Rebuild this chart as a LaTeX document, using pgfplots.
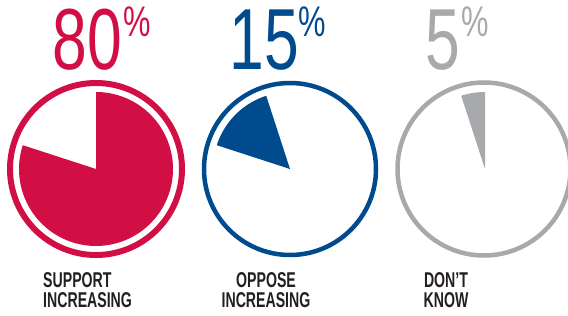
\documentclass[border=0pt]{standalone}
\usepackage{pgfplots}
\pgfplotsset{compat=1.18}
\usepackage{fontspec}
\setmainfont{Liberation Sans}
\usepackage{graphicx}
\definecolor{cred}{HTML}{D20F45}
\definecolor{cblue}{HTML}{004B8D}
\definecolor{cgray}{HTML}{A7A9AC}
\definecolor{ctext}{HTML}{231F20}
% value of each share, and the share drawn before it (cumulative)
\newcommand\pie[4]{% center x, cumulative before, value, colour
  \addplot[fill=#4, draw=none, domain={90-3.6*(#2+#3)}:{90-3.6*#2}, samples=120]
    ({#1+77*cos(x)},{147+77*sin(x)}) -- (axis cs:#1,147) -- cycle;
}
\newcommand\bignum[1]{\scalebox{0.72}[1]{\fontsize{87}{87}\selectfont #1}}
\newcommand\pct{\scalebox{0.72}[1]{\fontsize{43}{43}\selectfont\%}}
\newcommand\lab[3]{\scalebox{0.66}[1]{\fontsize{21.5}{19}\selectfont\bfseries
  \begin{tabular}{@{}#1@{}}#2\\#3\end{tabular}}}
\begin{document}
\begin{tikzpicture}
\useasboundingbox (0,0) rectangle (568bp,316bp);
\begin{axis}[at={(0,0)}, anchor=south west, scale only axis,
  width=568bp, height=316bp, xmin=0, xmax=568, ymin=0, ymax=316,
  hide axis, clip=false]
% rings
\draw[cred, line width=6bp] (axis cs:96,147) circle [radius=86];
\draw[cblue, line width=4.5bp] (axis cs:290,147) circle [radius=86];
\draw[cgray, line width=4.5bp] (axis cs:484,147) circle [radius=86.5];
% wedges: Support 80, Oppose 15, Don't know 5
\pie{96}{0}{80}{cred}
\pie{290}{80}{15}{cblue}
\pie{485}{95}{5}{cgray}
% numbers
\node[anchor=base east, inner sep=0, text=cred] at (axis cs:122,246.5) {\bignum{80}};
\node[anchor=north west, inner sep=0, text=cred] at (axis cs:123,309) {\pct};
\node[anchor=base east, inner sep=0, text=cblue] at (axis cs:299,246.5) {\bignum{15}};
\node[anchor=north west, inner sep=0, text=cblue] at (axis cs:298,309) {\pct};
\node[anchor=base east, inner sep=0, text=cgray] at (axis cs:460,246.5) {\bignum{5}};
\node[anchor=north west, inner sep=0, text=cgray] at (axis cs:461,309) {\pct};
% labels
\node[anchor=south west, inner sep=0, text=ctext] at (axis cs:43,2.3) {\lab{l}{SUPPORT}{INCREASING}};
\node[anchor=south, inner sep=0, text=ctext] at (axis cs:266,2.3) {\lab{c}{OPPOSE}{INCREASING}};
\node[anchor=south, inner sep=0, text=ctext] at (axis cs:446,2.3) {\lab{c}{DON’T}{KNOW}};
\end{axis}
\end{tikzpicture}
\end{document}
